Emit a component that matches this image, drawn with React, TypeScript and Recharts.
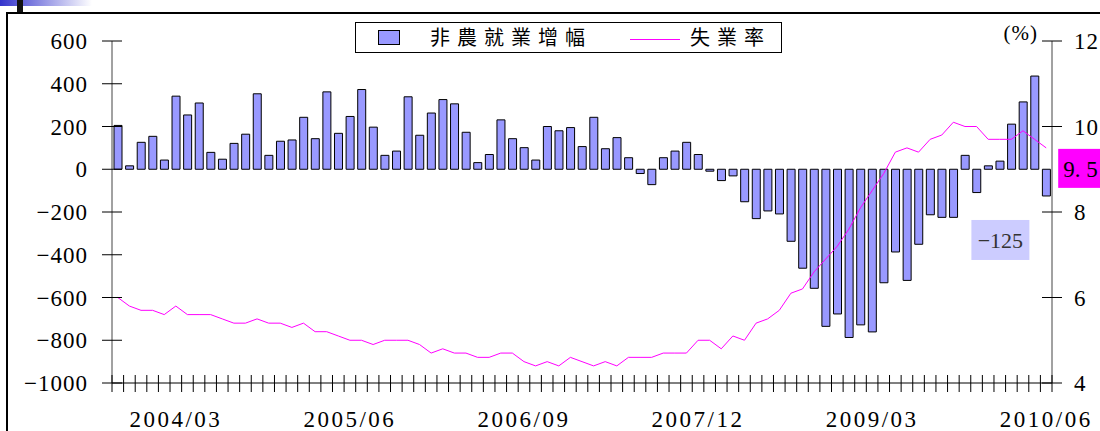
import React from 'react';
import {
  ComposedChart,
  Bar,
  Line,
  XAxis,
  YAxis,
  Legend,
  LabelList,
  Label,
} from 'recharts';

// Months 2003/10 .. 2010/06
const months: string[] = [
  '2003/10', '2003/11', '2003/12',
  '2004/01', '2004/02', '2004/03', '2004/04', '2004/05', '2004/06', '2004/07', '2004/08', '2004/09', '2004/10', '2004/11', '2004/12',
  '2005/01', '2005/02', '2005/03', '2005/04', '2005/05', '2005/06', '2005/07', '2005/08', '2005/09', '2005/10', '2005/11', '2005/12',
  '2006/01', '2006/02', '2006/03', '2006/04', '2006/05', '2006/06', '2006/07', '2006/08', '2006/09', '2006/10', '2006/11', '2006/12',
  '2007/01', '2007/02', '2007/03', '2007/04', '2007/05', '2007/06', '2007/07', '2007/08', '2007/09', '2007/10', '2007/11', '2007/12',
  '2008/01', '2008/02', '2008/03', '2008/04', '2008/05', '2008/06', '2008/07', '2008/08', '2008/09', '2008/10', '2008/11', '2008/12',
  '2009/01', '2009/02', '2009/03', '2009/04', '2009/05', '2009/06', '2009/07', '2009/08', '2009/09', '2009/10', '2009/11', '2009/12',
  '2010/01', '2010/02', '2010/03', '2010/04', '2010/05', '2010/06',
];

// 非農就業增幅 (thousands)
const payrolls: number[] = [
  205, 16, 126,
  154, 43, 342, 254, 310, 79, 47, 121, 164, 353, 65, 131,
  137, 243, 143, 362, 168, 247, 373, 197, 65, 85, 339, 159,
  263, 326, 306, 173, 31, 69, 231, 143, 101, 43, 200, 180,
  195, 106, 243, 96, 148, 54, -20, -72, 54, 85, 126, 69,
  -9, -53, -31, -152, -231, -195, -209, -337, -463, -557, -735, -677,
  -787, -728, -761, -531, -387, -520, -351, -213, -225, -225, 65, -109,
  16, 38, 211, 315, 436, -125,
];

// 失業率 (%)
const unemployment: number[] = [
  6.0, 5.8, 5.7,
  5.7, 5.6, 5.8, 5.6, 5.6, 5.6, 5.5, 5.4, 5.4, 5.5, 5.4, 5.4,
  5.3, 5.4, 5.2, 5.2, 5.1, 5.0, 5.0, 4.9, 5.0, 5.0, 5.0, 4.9,
  4.7, 4.8, 4.7, 4.7, 4.6, 4.6, 4.7, 4.7, 4.5, 4.4, 4.5, 4.4,
  4.6, 4.5, 4.4, 4.5, 4.4, 4.6, 4.6, 4.6, 4.7, 4.7, 4.7, 5.0,
  5.0, 4.8, 5.1, 5.0, 5.4, 5.5, 5.7, 6.1, 6.2, 6.6, 6.9, 7.2,
  7.6, 8.1, 8.5, 8.9, 9.4, 9.5, 9.4, 9.7, 9.8, 10.1, 10.0, 10.0,
  9.7, 9.7, 9.7, 9.9, 9.7, 9.5,
];

const xLabels: string[] = ['2004/03', '2005/06', '2006/09', '2007/12', '2009/03', '2010/06'];
const leftTicks: number[] = [-1000, -800, -600, -400, -200, 0, 200, 400, 600];
const rightTicks: number[] = [4, 6, 8, 10, 12];

const seriesNames = { bar: '非農就業增幅', line: '失業率' };

const data = months.map((m, i) => ({ month: m, payrolls: payrolls[i], rate: unemployment[i] }));

const W = 1100;
const H = 431;
const LEFT_W = 112;
const RIGHT_W = 48;
const TOP = 41;
const BOTTOM_H = 48;
const PLOT_W = W - LEFT_W - RIGHT_W;
const BAND = PLOT_W / months.length;

const SERIF = '"Liberation Serif", "DejaVu Serif", serif';
const CJK = '"Noto Sans CJK TC", "Noto Sans CJK SC", sans-serif';

const fmt = (v: number) => (v < 0 ? '\u2212' + Math.abs(v) : String(v));

const XTick = (props: any) => {
  const { x, y, payload, index } = props;
  const isLast = index === months.length - 1;
  const showLabel = xLabels.includes(payload.value);
  return (
    <g>
      <line x1={x - BAND / 2} x2={x - BAND / 2} y1={y - 8} y2={y + 9} stroke="#000" strokeWidth={1} />
      {isLast && <line x1={x + BAND / 2} x2={x + BAND / 2} y1={y - 8} y2={y + 9} stroke="#000" strokeWidth={1} />}
      {showLabel && (
        <text x={x} y={y + 44} textAnchor="middle" fontFamily={SERIF} fontSize={23} letterSpacing={2.5} fill="#000">
          {payload.value}
        </text>
      )}
    </g>
  );
};

const LeftTick = (props: any) => {
  const { x, y, payload } = props;
  return (
    <g>
      <line x1={x - 10} x2={x + 10} y1={y} y2={y} stroke="#000" strokeWidth={1} />
      <text x={x - 24} y={y} dy="0.35em" textAnchor="end" fontFamily={SERIF} fontSize={23} letterSpacing={1} fill="#000">
        {fmt(payload.value)}
      </text>
    </g>
  );
};

const RightTick = (props: any) => {
  const { x, y, payload } = props;
  return (
    <g>
      <line x1={x - 10} x2={x + 10} y1={y} y2={y} stroke="#000" strokeWidth={1} />
      <text x={x + 22} y={y} dy="0.35em" textAnchor="start" fontFamily={SERIF} fontSize={23} letterSpacing={1} fill="#000">
        {payload.value}
      </text>
    </g>
  );
};

const BarEndLabel = (props: any) => {
  const { x, y, width, height, index, value } = props;
  if (index !== payrolls.length - 1) return null;
  const bottom = Math.max(y, y + height);
  const cx = x + width / 2;
  return (
    <g>
      <rect x={cx - 75} y={bottom + 24} width={58} height={40} fill="#CCCCFF" />
      <text x={cx - 46} y={bottom + 44} dy="0.35em" textAnchor="middle" fontFamily={SERIF} fontSize={22} fill="#333">
        {fmt(value)}
      </text>
    </g>
  );
};

const LineEndLabel = (props: any) => {
  const { x, y, index, value } = props;
  if (index !== unemployment.length - 1) return null;
  return (
    <g>
      <rect x={x + 12} y={y + 1} width={60} height={39} fill="#FF00FF" />
      <text x={x + 17} y={y + 21} dy="0.35em" textAnchor="start" fontFamily={SERIF} fontSize={23} fill="#000">
        {String(value).replace('.', '. ')}
      </text>
    </g>
  );
};

const PercentLabel = (props: any) => {
  const { viewBox } = props;
  return (
    <text x={viewBox.x - 14} y={viewBox.y - 1} textAnchor="end" fontFamily={SERIF} fontSize={21} letterSpacing={1} fill="#000">
      (%)
    </text>
  );
};

const renderLegend = () => (
  <div
    style={{
      position: 'relative',
      width: 427,
      height: 31,
      border: '1.5px solid #000',
      boxSizing: 'border-box',
      background: '#fff',
    }}
  >
    <div
      style={{
        position: 'absolute',
        left: 22,
        top: 7,
        width: 22,
        height: 15,
        background: '#9999FF',
        border: '1px solid #000',
        boxSizing: 'border-box',
      }}
    />
    <span
      style={{
        position: 'absolute',
        left: 74,
        top: 1,
        fontFamily: CJK,
        fontSize: 20,
        lineHeight: '26px',
        letterSpacing: 7,
        color: '#000',
        whiteSpace: 'nowrap',
      }}
    >
      {seriesNames.bar}
    </span>
    <div style={{ position: 'absolute', left: 274, top: 16, width: 50, height: 1, background: '#FF00FF' }} />
    <span
      style={{
        position: 'absolute',
        left: 334,
        top: 1,
        fontFamily: CJK,
        fontSize: 20,
        lineHeight: '26px',
        letterSpacing: 7,
        color: '#000',
        whiteSpace: 'nowrap',
      }}
    >
      {seriesNames.line}
    </span>
  </div>
);

export default function App() {
  return (
    <div style={{ position: 'fixed', left: 0, top: 0, width: W, height: H, background: '#fff', overflow: 'hidden' }}>
      <ComposedChart width={W} height={H} data={data} margin={{ top: TOP, right: 0, bottom: 0, left: 0 }}>
        <XAxis
          dataKey="month"
          xAxisId="x"
          height={BOTTOM_H}
          interval={0}
          tickSize={0}
          tickMargin={0}
          tickLine={false}
          axisLine={{ stroke: '#000', strokeWidth: 1 }}
          tick={<XTick />}
        />
        <YAxis
          yAxisId="left"
          orientation="left"
          width={LEFT_W}
          domain={[-1000, 600]}
          ticks={leftTicks}
          interval={0}
          tickSize={0}
          tickMargin={0}
          tickLine={false}
          axisLine={{ stroke: '#444', strokeWidth: 1 }}
          tick={<LeftTick />}
        />
        <YAxis
          yAxisId="right"
          orientation="right"
          width={RIGHT_W}
          domain={[4, 12]}
          ticks={rightTicks}
          interval={0}
          tickSize={0}
          tickMargin={0}
          tickLine={false}
          axisLine={{ stroke: '#444', strokeWidth: 1 }}
          tick={<RightTick />}
        >
          <Label content={<PercentLabel />} />
        </YAxis>
        <Bar
          xAxisId="x"
          yAxisId="left"
          dataKey="payrolls"
          name={seriesNames.bar}
          fill="#9999FF"
          stroke="#000"
          strokeWidth={1}
          barSize={8}
          isAnimationActive={false}
        >
          <LabelList dataKey="payrolls" content={<BarEndLabel />} />
        </Bar>
        <Line
          xAxisId="x"
          yAxisId="right"
          type="linear"
          dataKey="rate"
          name={seriesNames.line}
          stroke="#FF00FF"
          strokeWidth={1}
          dot={false}
          activeDot={false}
          isAnimationActive={false}
        >
          <LabelList dataKey="rate" content={<LineEndLabel />} />
        </Line>
        <Legend
          layout="vertical"
          align="center"
          verticalAlign="middle"
          content={renderLegend}
          wrapperStyle={{ left: 355, top: 22, width: 427, height: 31 }}
        />
      </ComposedChart>
      {/* slide frame decorations */}
      <div
        style={{
          position: 'absolute',
          left: 0,
          top: 0,
          width: 92,
          height: 6,
          background: 'linear-gradient(to right, #3333CC, #ffffff)',
        }}
      />
      <div style={{ position: 'absolute', left: 17, top: 0, width: 6, height: 13, background: '#111' }} />
      <div
        style={{
          position: 'absolute',
          left: 6,
          top: 12,
          width: W,
          height: H,
          borderLeft: '2px solid #000',
          borderTop: '2px solid #000',
          boxSizing: 'border-box',
          pointerEvents: 'none',
        }}
      />
    </div>
  );
}
